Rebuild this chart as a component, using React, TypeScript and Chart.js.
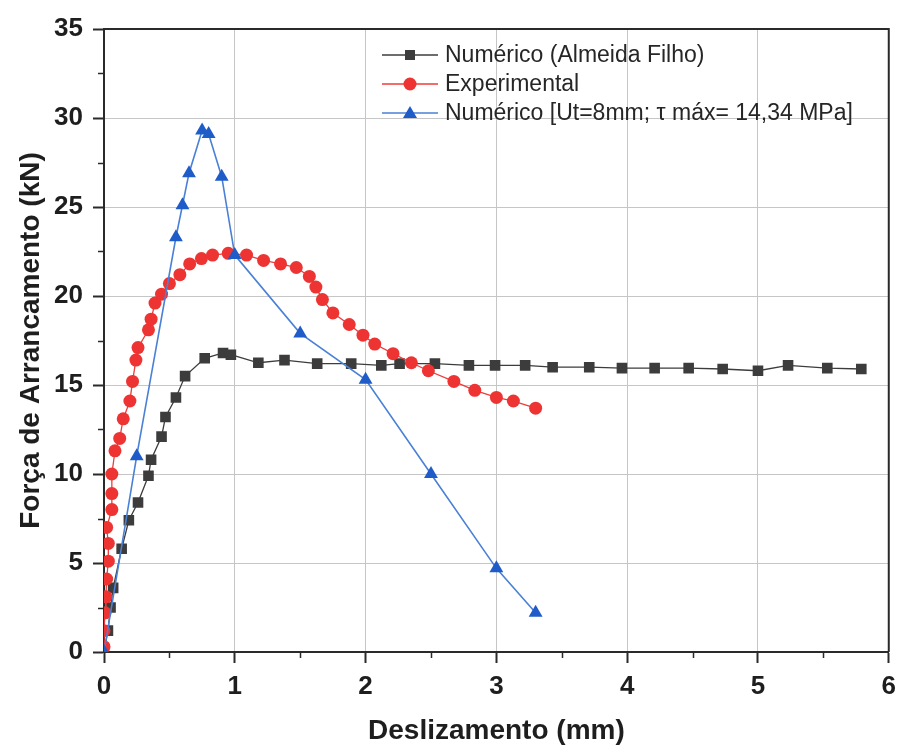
import React, { useEffect, useRef } from 'react';
import { Chart, registerables } from 'chart.js';
Chart.register(...registerables);

const xTicks = [0, 1, 2, 3, 4, 5, 6];
const yTicks = [0, 5, 10, 15, 20, 25, 30, 35];

const seriesNames = [
  'Numérico (Almeida Filho)',
  'Experimental',
  'Numérico [Ut=8mm; τ máx= 14,34 MPa]',
];

const numAlmeidaX = [0, 0.03, 0.05, 0.07, 0.135, 0.19, 0.26, 0.34, 0.36, 0.44, 0.47, 0.55, 0.62, 0.77, 0.91, 0.97, 1.18, 1.38, 1.63, 1.89, 2.12, 2.26, 2.53, 2.79, 2.99, 3.22, 3.43, 3.71, 3.96, 4.21, 4.47, 4.73, 5.0, 5.23, 5.53, 5.79];
const numAlmeidaY = [0, 1.2, 2.5, 3.6, 5.8, 7.4, 8.4, 9.9, 10.8, 12.1, 13.2, 14.3, 15.5, 16.5, 16.8, 16.7, 16.25, 16.4, 16.2, 16.2, 16.1, 16.2, 16.2, 16.1, 16.1, 16.1, 16.0, 16.0, 15.95, 15.95, 15.95, 15.9, 15.8, 16.1, 15.95, 15.9];

const expX = [0, 0, 0.008, 0.015, 0.02, 0.033, 0.033, 0.02, 0.06, 0.06, 0.06, 0.084, 0.12, 0.147, 0.198, 0.218, 0.244, 0.26, 0.34, 0.36, 0.39, 0.44, 0.5, 0.58, 0.655, 0.745, 0.83, 0.95, 1.09, 1.22, 1.35, 1.47, 1.57, 1.62, 1.67, 1.75, 1.875, 1.98, 2.07, 2.21, 2.35, 2.48, 2.675, 2.835, 3.0, 3.13, 3.3];
const expY = [0.3, 1.2, 2.2, 3.1, 4.1, 5.1, 6.1, 7.0, 8.0, 8.9, 10.0, 11.3, 12.0, 13.1, 14.1, 15.2, 16.4, 17.1, 18.1, 18.7, 19.6, 20.1, 20.7, 21.2, 21.8, 22.1, 22.3, 22.4, 22.3, 22.0, 21.8, 21.6, 21.1, 20.5, 19.8, 19.05, 18.4, 17.8, 17.3, 16.76, 16.25, 15.8, 15.2, 14.7, 14.3, 14.1, 13.7];

const numUtX = [0, 0.25, 0.55, 0.6, 0.65, 0.75, 0.8, 0.9, 1.0, 1.5, 2.0, 2.5, 3.0, 3.3];
const numUtY = [0, 11.0, 23.3, 25.1, 26.9, 29.3, 29.1, 26.7, 22.3, 17.9, 15.3, 10.0, 4.7, 2.2];

const FONT = '"Liberation Sans", Arial, Helvetica, sans-serif';
const AXIS = '#2a2a2a';

const toPts = (xs: number[], ys: number[]) => xs.map((x, i) => ({ x, y: ys[i] }));

const styles = [
  { line: '#3c3c3c', fill: '#3c3c3c', pointStyle: 'rect', radius: 7.5, lw: 1.3 },
  { line: '#ee3b3b', fill: '#ee3333', pointStyle: 'circle', radius: 6.5, lw: 1.3 },
  { line: '#4a80d6', fill: '#1f5cc8', pointStyle: 'triangle', radius: 8, lw: 1.6 },
];

const extrasPlugin = {
  id: 'extras',
  afterDraw(chart: any) {
    const { ctx, chartArea: a, scales } = chart;
    const xs = scales.x;
    const ys = scales.y;
    ctx.save();
    // frame top/right
    ctx.strokeStyle = AXIS;
    ctx.lineWidth = 2;
    ctx.beginPath();
    ctx.moveTo(a.left, a.top);
    ctx.lineTo(a.right, a.top);
    ctx.lineTo(a.right, a.bottom);
    ctx.stroke();
    // minor ticks
    ctx.lineWidth = 1.5;
    ctx.beginPath();
    for (let v = 2.5; v < 35; v += 5) {
      const py = Math.round(ys.getPixelForValue(v)) + 0.5;
      ctx.moveTo(a.left, py);
      ctx.lineTo(a.left - 6, py);
    }
    for (let v = 0.5; v < 6; v += 1) {
      const px = Math.round(xs.getPixelForValue(v)) + 0.5;
      ctx.moveTo(px, a.bottom);
      ctx.lineTo(px, a.bottom + 6);
    }
    ctx.stroke();
    // legend
    const rows = [55, 84, 113];
    const lx0 = 382, lx1 = 438, mx = 410, tx = 445;
    chart.data.datasets.forEach((ds: any, i: number) => {
      const st = styles[i];
      const y = rows[i];
      ctx.strokeStyle = st.line;
      ctx.lineWidth = st.lw;
      ctx.beginPath();
      ctx.moveTo(lx0, y);
      ctx.lineTo(lx1, y);
      ctx.stroke();
      ctx.fillStyle = st.fill;
      ctx.lineWidth = 1;
      if (st.pointStyle === 'rect') {
        ctx.fillRect(mx - 5, y - 5, 10, 10);
      } else if (st.pointStyle === 'circle') {
        ctx.beginPath();
        ctx.arc(mx, y, 6.5, 0, Math.PI * 2);
        ctx.fill();
      } else {
        ctx.beginPath();
        ctx.moveTo(mx, y - 7);
        ctx.lineTo(mx + 7, y + 5);
        ctx.lineTo(mx - 7, y + 5);
        ctx.closePath();
        ctx.fill();
      }
      ctx.fillStyle = '#262626';
      ctx.font = `23px ${FONT}`;
      ctx.textBaseline = 'middle';
      ctx.textAlign = 'left';
      ctx.fillText(seriesNames[i], tx, y + 1);
    });
    ctx.restore();
  },
};

export default function App() {
  const ref = useRef<HTMLCanvasElement | null>(null);
  useEffect(() => {
    if (!ref.current) return;
    const datasets = [
      { data: toPts(numAlmeidaX, numAlmeidaY), order: 2 },
      { data: toPts(expX, expY), order: 1 },
      { data: toPts(numUtX, numUtY), order: 0 },
    ].map((d, i) => ({
      label: seriesNames[i],
      data: d.data,
      order: d.order,
      showLine: true,
      borderColor: styles[i].line,
      borderWidth: styles[i].lw,
      backgroundColor: styles[i].fill,
      pointBackgroundColor: styles[i].fill,
      pointBorderColor: styles[i].fill,
      pointBorderWidth: 0,
      pointStyle: styles[i].pointStyle,
      pointRadius: styles[i].radius,
      tension: 0,
    }));
    const chart = new Chart(ref.current, {
      type: 'scatter',
      data: { datasets },
      options: {
        responsive: false,
        animation: false,
        events: [],
        layout: { padding: { top: 29, right: 12, left: 0, bottom: 0 } },
        plugins: { legend: { display: false }, tooltip: { enabled: false } },
        scales: {
          x: {
            type: 'linear',
            min: 0,
            max: 6,
            afterBuildTicks: (s: any) => { s.ticks = xTicks.map((v) => ({ value: v })); },
            afterFit: (s: any) => { s.height = 101; },
            grid: { color: '#c6c6c6', lineWidth: 1, tickColor: AXIS, tickLength: 11, tickWidth: 2 },
            border: { color: AXIS, width: 2 },
            ticks: { color: '#1e1e1e', font: { family: FONT, size: 26, weight: 'bold' }, padding: 8, maxRotation: 0 },
            title: { display: true, text: 'Deslizamento (mm)', color: '#1e1e1e', font: { family: FONT, size: 28, weight: 'bold' }, padding: { top: 0, bottom: 5 } },
          },
          y: {
            type: 'linear',
            min: 0,
            max: 35,
            afterBuildTicks: (s: any) => { s.ticks = yTicks.map((v) => ({ value: v })); },
            afterFit: (s: any) => { s.width = 104; },
            grid: { color: '#c6c6c6', lineWidth: 1, tickColor: AXIS, tickLength: 11, tickWidth: 2 },
            border: { color: AXIS, width: 2 },
            ticks: { color: '#1e1e1e', font: { family: FONT, size: 26, weight: 'bold' }, padding: 10 },
            title: { display: true, text: 'Força de Arrancamento (kN)', color: '#1e1e1e', font: { family: FONT, size: 28, weight: 'bold' }, padding: { top: 14, bottom: 0 } },
          },
        },
      },
      plugins: [extrasPlugin],
    } as any);
    return () => chart.destroy();
  }, []);
  return (
    <div style={{ position: 'fixed', left: 0, top: 0, width: 904, height: 753, background: '#fff' }}>
      <canvas ref={ref} width={904} height={753} style={{ width: 904, height: 753, display: 'block' }} />
    </div>
  );
}
